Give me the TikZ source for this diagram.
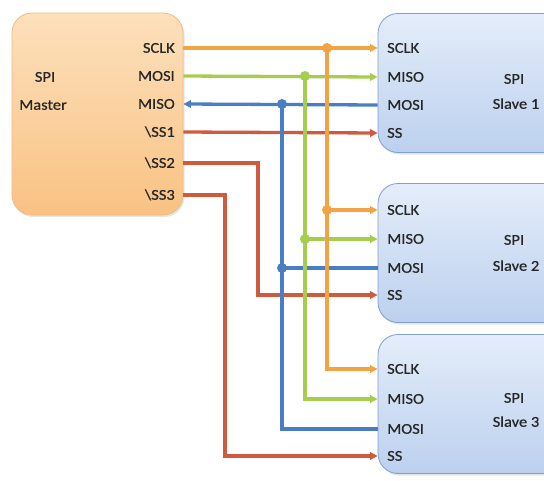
\documentclass[tikz,border=0pt]{standalone}
\usepackage{fontspec}
\setmainfont{Carlito}[FakeStretch=1.1,FakeBold=0.6]
\usetikzlibrary{arrows.meta,shadows}
\definecolor{wor}{HTML}{F2A444}
\definecolor{wgr}{HTML}{A6CE4E}
\definecolor{wbl}{HTML}{4A7EC4}
\definecolor{wrd}{HTML}{CF5A3E}
\definecolor{mtop}{HTML}{FCE0BC}
\definecolor{mbot}{HTML}{F9C283}
\definecolor{mbrd}{HTML}{F0BC86}
\definecolor{stop}{HTML}{E4EDFA}
\definecolor{sbot}{HTML}{BCD0EE}
\definecolor{sbrd}{HTML}{7F9FD3}
\begin{document}
\begin{tikzpicture}[x=1pt,y=-1pt,
  wire/.style={line width=3.3pt},
  tip/.style={-{Triangle[length=7.5pt,width=7.5pt]}},
  pin/.style={font=\fontsize{15}{17}\selectfont, inner sep=0pt, text=black!85, text height=9.5pt, text depth=0pt},
  title/.style={pin, anchor=center},
  dot/.style={circle, fill, inner sep=0pt, minimum size=10pt},
  masterbox/.style={rectangle, rounded corners=20pt, draw=mbrd, line width=0.8pt, top color=mtop, bottom color=mbot, drop shadow={opacity=0.2, shadow xshift=1.5pt, shadow yshift=-2pt}},
  slavebox/.style={rectangle, rounded corners=20pt, draw=sbrd, line width=0.8pt, top color=stop, bottom color=sbot, drop shadow={opacity=0.2, shadow xshift=1.5pt, shadow yshift=-2pt}, minimum width=212pt, minimum height=139pt}]
\useasboundingbox (0,0) rectangle (544,480);
\clip (0,0) rectangle (544,480);
\fill[white] (0,0) rectangle (544,480);

% master
\node[masterbox, minimum width=171pt, minimum height=202pt] (master) at (97.5,114) {};
\node[title] (mt1) at (45,77) {SPI};
\node[title] (mt2) at (43,105) {Master};
\node[pin, anchor=east] (mSCLK) at (175,48) {SCLK};
\node[pin, anchor=east] (mMOSI) at (175,76) {MOSI};
\node[pin, anchor=east] (mMISO) at (175,104) {MISO};
\node[pin, anchor=east] (mSSa) at (175,132) {\textbackslash SS1};
\node[pin, anchor=east] (mSSb) at (175,163) {\textbackslash SS2};
\node[pin, anchor=east] (mSSc) at (175,195) {\textbackslash SS3};

% slaves
\node[slavebox] (s1) at (484,83) {};
\node[slavebox] (s2) at (484,253) {};
\node[slavebox] (s3) at (484,404) {};
\node[title] at (514,79) {SPI};
\node[title] at (516,104) {Slave 1};
\node[title] at (514,240) {SPI};
\node[title] at (516,266) {Slave 2};
\node[title] at (514,398) {SPI};
\node[title] at (516,422) {Slave 3};

\node[pin, anchor=west] (aSCLK) at (387,48) {SCLK};
\node[pin, anchor=west] (aMISO) at (387,77) {MISO};
\node[pin, anchor=west] (aMOSI) at (387,105) {MOSI};
\node[pin, anchor=west] (aSS) at (387,133) {SS};
\node[pin, anchor=west] (bSCLK) at (387,210) {SCLK};
\node[pin, anchor=west] (bMISO) at (387,239) {MISO};
\node[pin, anchor=west] (bMOSI) at (387,268) {MOSI};
\node[pin, anchor=west] (bSS) at (387,295) {SS};
\node[pin, anchor=west] (cSCLK) at (387,369) {SCLK};
\node[pin, anchor=west] (cMISO) at (387,399) {MISO};
\node[pin, anchor=west] (cMOSI) at (387,429) {MOSI};
\node[pin, anchor=west] (cSS) at (387,456) {SS};

% branch points
\coordinate (xo) at (327,0);
\coordinate (xg) at (305,0);
\coordinate (xb) at (282,0);
\coordinate (xr2) at (258,0);
\coordinate (xr3) at (225,0);

% wires: slave 1
\draw[wire, wor, tip] (master.east |- mSCLK) -- (s1.west |- aSCLK);
\draw[wire, wgr, tip] (master.east |- mMOSI) -- (s1.west |- aMISO);
\draw[wire, wbl, tip] (s1.west |- aMOSI) -- (master.east |- mMISO);
\draw[wire, wrd, tip] (master.east |- mSSa) -- (s1.west |- aSS);
% slave 2 and 3 SS
\draw[wire, wrd, tip] (master.east |- mSSb) -- (xr2 |- mSSb) -- (xr2 |- bSS) -- (s2.west |- bSS);
\draw[wire, wrd, tip] (master.east |- mSSc) -- (xr3 |- mSSc) -- (xr3 |- cSS) -- (s3.west |- cSS);
% buses
\draw[wire, wbl] (xb |- mMISO) -- (xb |- cMOSI) -- (s3.west |- cMOSI);
\draw[wire, wbl] (xb |- bMOSI) -- (s2.west |- bMOSI);
\draw[wire, wgr, tip] (xg |- mMOSI) -- (xg |- cMISO) -- (s3.west |- cMISO);
\draw[wire, wgr, tip] (xg |- bMISO) -- (s2.west |- bMISO);
\draw[wire, wor, tip] (xo |- mSCLK) -- (xo |- cSCLK) -- (s3.west |- cSCLK);
\draw[wire, wor, tip] (xo |- bSCLK) -- (s2.west |- bSCLK);
% dots
\node[dot, wor] (d1) at (xo |- mSCLK) {};
\node[dot, wgr] (d2) at (xg |- mMOSI) {};
\node[dot, wbl] (d3) at (xb |- mMISO) {};
\node[dot, wor] (d4) at (xo |- bSCLK) {};
\node[dot, wgr] (d5) at (xg |- bMISO) {};
\node[dot, wbl] (d6) at (xb |- bMOSI) {};
\end{tikzpicture}
\end{document}
